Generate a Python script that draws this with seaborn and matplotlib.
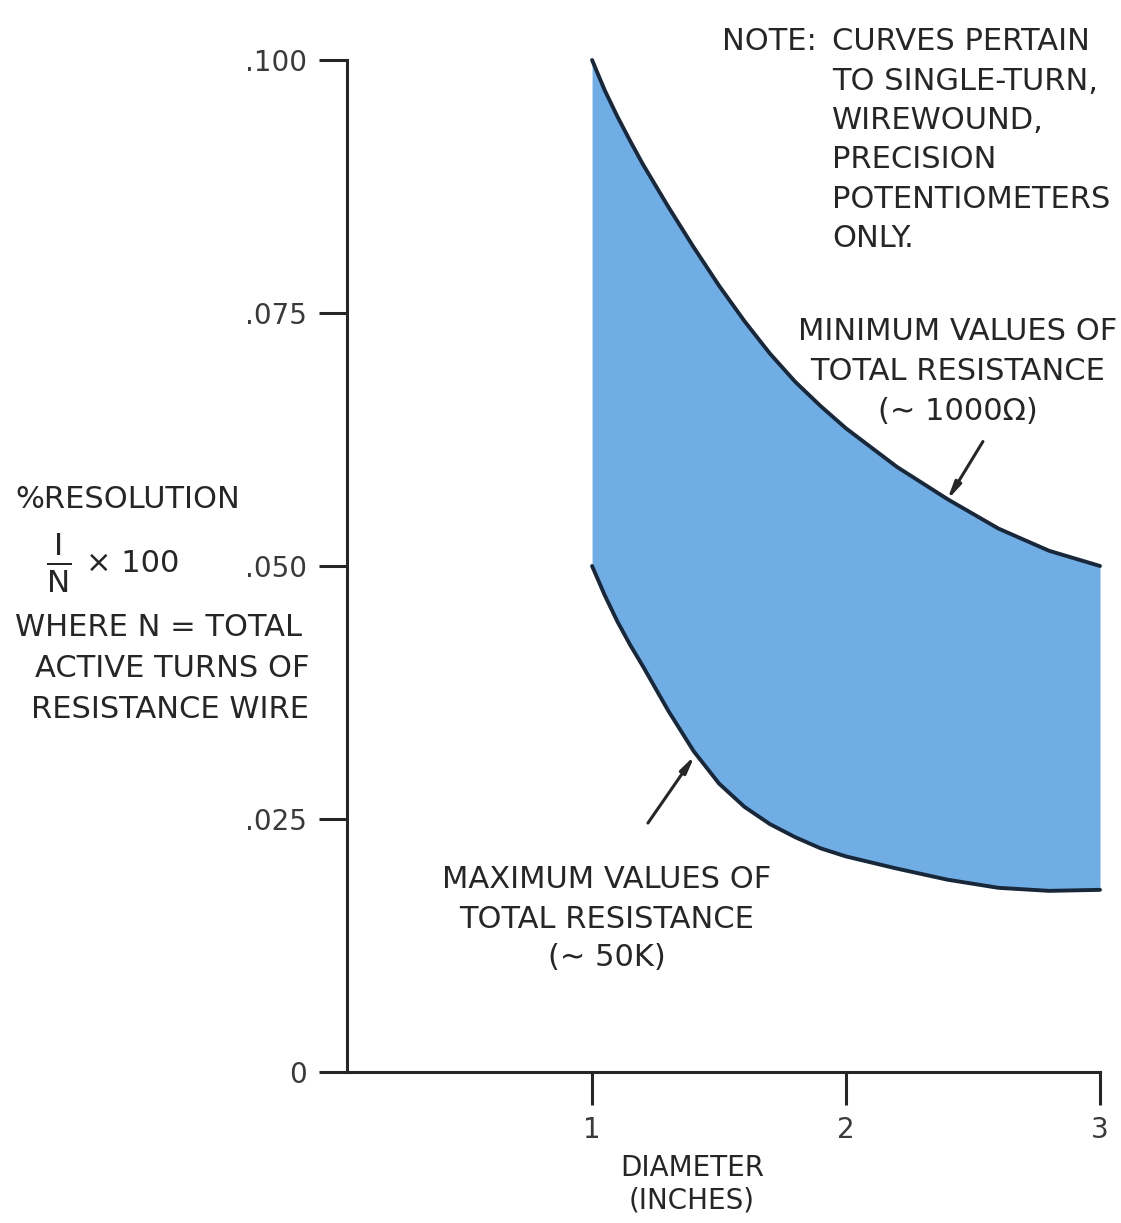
import numpy as np
import pandas as pd
import matplotlib
matplotlib.use("Agg")
import matplotlib.pyplot as plt
import seaborn as sns

# Diameter (inches) and % resolution
diameter = [1.0, 1.05, 1.1, 1.15, 1.2, 1.3, 1.4, 1.5, 1.6, 1.7, 1.8, 1.9,
            2.0, 2.2, 2.4, 2.6, 2.8, 3.0]
min_resistance = [0.1000, 0.0970, 0.0944, 0.0920, 0.0897, 0.0855, 0.0815, 0.0777,
                  0.0742, 0.0710, 0.0682, 0.0658, 0.0636, 0.0598, 0.0566, 0.0537,
                  0.0515, 0.0500]
max_resistance = [0.0500, 0.0471, 0.0445, 0.0422, 0.0401, 0.0357, 0.0317, 0.0285,
                  0.0262, 0.0245, 0.0232, 0.0221, 0.0213, 0.0201, 0.0190, 0.0182,
                  0.0179, 0.0180]
y_ticks = [0, 0.025, 0.050, 0.075, 0.100]
y_tick_labels = ["0", ".025", ".050", ".075", ".100"]
x_ticks = [1, 2, 3]
x_tick_labels = ["1", "2", "3"]

df = pd.DataFrame({"diameter": diameter, "upper": min_resistance, "lower": max_resistance})

sns.set_style("ticks")
plt.rcParams['font.family'] = ['DejaVu Sans']

W, H = 1121, 1223
fig = plt.figure(figsize=(W / 100, H / 100), dpi=100)
ax = fig.add_axes([347 / W, 1 - 1072 / H, (1100 - 347) / W, (1072 - 60) / H])

ink = "#262626"
curve = "#18283a"
fill = "#71ade5"
fs = 22

ax.fill_between(df["diameter"], df["lower"], df["upper"], color=fill, lw=0, zorder=1)
sns.lineplot(data=df, x="diameter", y="upper", ax=ax, color=curve, lw=2.8, zorder=3)
sns.lineplot(data=df, x="diameter", y="lower", ax=ax, color=curve, lw=2.8, zorder=3)
for ln in ax.lines:
    ln.set_clip_on(False)
    ln.set_solid_joinstyle("round")

ax.set_xlim(0.035, 3.0)
ax.set_ylim(0, 0.100)
ax.set_xticks(x_ticks)
ax.set_xticklabels(x_tick_labels)
ax.set_yticks(y_ticks)
ax.set_yticklabels(y_tick_labels)
ax.set_xlabel("")
ax.set_ylabel("")
sns.despine(ax=ax)
for s in ["left", "bottom"]:
    ax.spines[s].set_linewidth(2.2)
    ax.spines[s].set_color(ink)
ax.tick_params(axis="y", length=20, width=2.2, color=ink, pad=9, labelsize=20, labelcolor="#3a3a3a")
ax.tick_params(axis="x", length=24, width=2.2, color=ink, pad=8, labelsize=20, labelcolor="#3a3a3a")

# arrows pointing at the curves
arrow = dict(arrowstyle="-|>,head_length=1.0,head_width=0.2", color=ink, lw=2.2,
             shrinkA=0, shrinkB=0)
ax.annotate("", xy=(2.398, 0.0565), xytext=(2.539, 0.0623), arrowprops=arrow, zorder=4)
ax.annotate("", xy=(1.405, 0.0313), xytext=(1.220, 0.0246), arrowprops=arrow, zorder=4)


def ftext(px, py, s, ha="left", size=fs):
    fig.text(px / W, 1 - py / H, s, ha=ha, va="center", fontsize=size, color=ink)


# note block
ftext(722, 42, "NOTE:")
note = ["CURVES PERTAIN", "TO SINGLE-TURN,", "WIREWOUND,", "PRECISION",
        "POTENTIOMETERS", "ONLY."]
for i, line in enumerate(note):
    ftext(832, 42 + i * 39.3, line)

# curve labels
for i, line in enumerate(["MINIMUM VALUES OF", "TOTAL RESISTANCE", "(∼ 1000Ω)"]):
    ftext(958, 332 + i * 40, line, ha="center")
for i, line in enumerate(["MAXIMUM VALUES OF", "TOTAL RESISTANCE", "(∼ 50K)"]):
    ftext(607, 880 + i * 39, line, ha="center")

# y-axis description
ftext(15, 500, "%RESOLUTION")
ftext(46, 563, r"$\frac{\mathregular{I}}{\mathregular{N}}$", size=32)
ftext(86, 563, "× 100")
ftext(15, 628, "WHERE N = TOTAL")
ftext(172, 668, "ACTIVE TURNS OF", ha="center")
ftext(170, 710, "RESISTANCE WIRE", ha="center")

# x-axis description
ftext(692, 1168, "DIAMETER", ha="center", size=20)
ftext(692, 1200, "(INCHES)", ha="center", size=20)

fig.savefig("out.png", dpi=100, facecolor="white")
